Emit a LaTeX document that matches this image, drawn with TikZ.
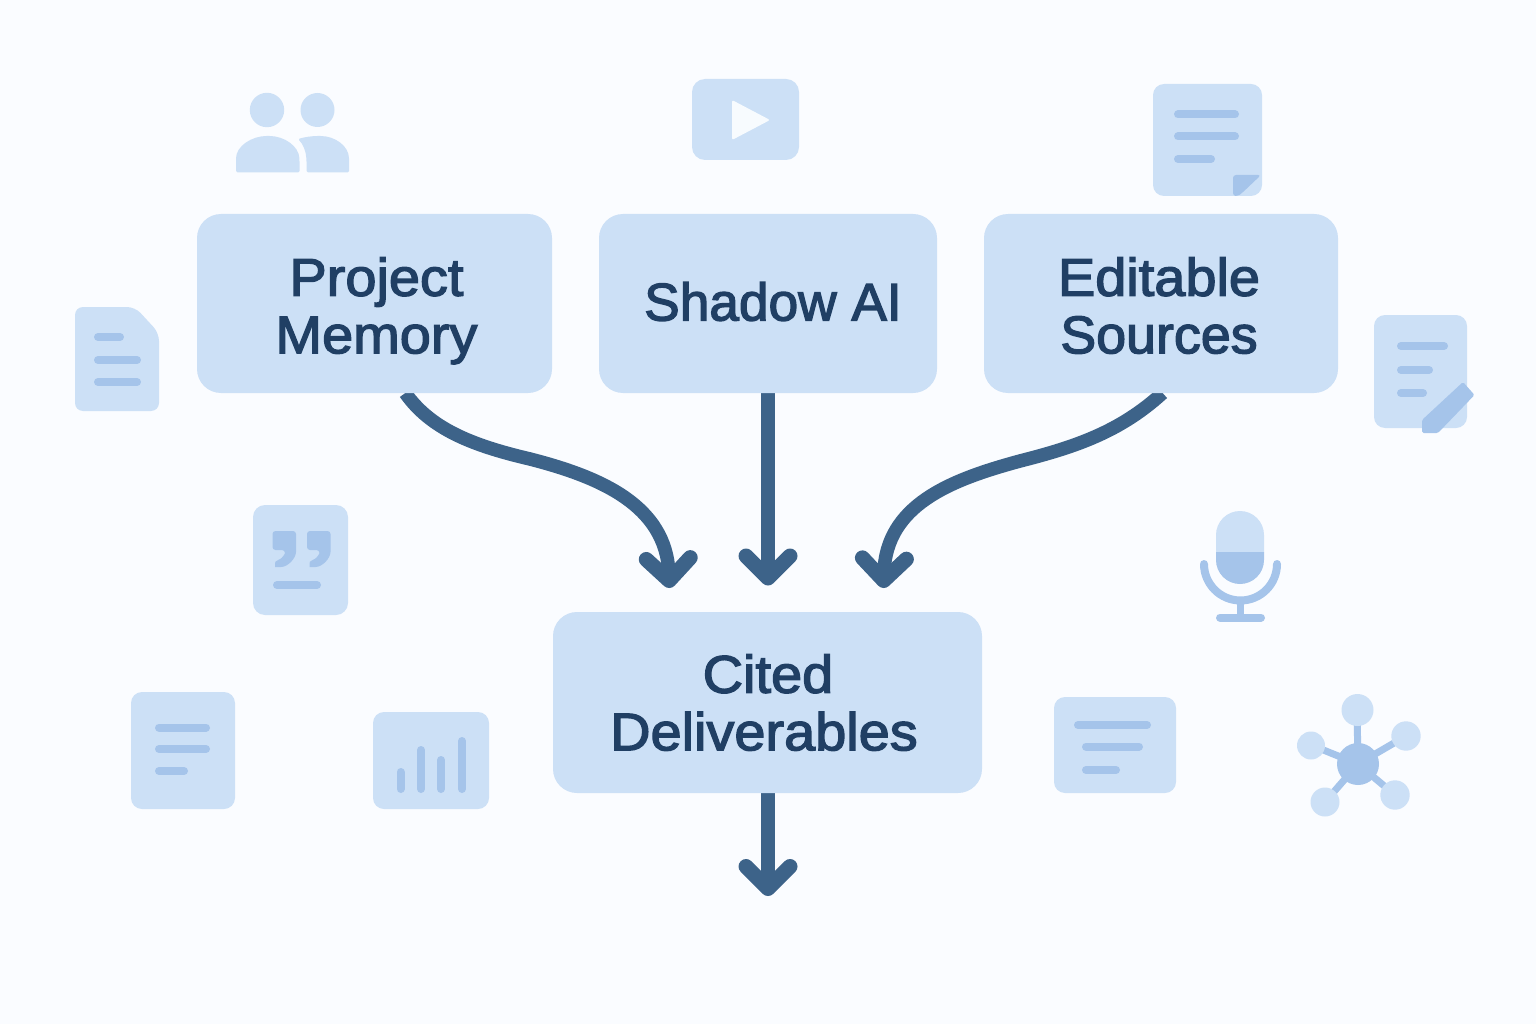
\documentclass[tikz,border=0pt]{standalone}
\usepackage{fontspec}
\setmainfont{Liberation Sans}[FakeBold=2.5,FakeStretch=1.055]
\usetikzlibrary{arrows.meta}
\pgfdeclarelayer{under}
\pgfsetlayers{under,main}
\definecolor{pagebg}{HTML}{FAFCFF}
\definecolor{boxfill}{HTML}{CCE0F6}
\definecolor{iconmid}{HTML}{A5C4EA}
\definecolor{flowcol}{HTML}{3D6389}
\definecolor{textcol}{HTML}{203F64}
\definecolor{playcol}{HTML}{F7FBFE}
\newcommand\lnstrut{\rule[-11pt]{0pt}{64pt}}
\newcommand\onestrut{\rule[-11pt]{0pt}{56pt}}
\newcommand\citedstrut{\rule[-11pt]{0pt}{60pt}}
\AtBeginDocument{\setlength{\lineskiplimit}{-100pt}}
\tikzset{
  mainbox/.style={fill=boxfill,rounded corners=24pt,inner sep=0pt,outer sep=0pt,text=textcol,
    align=center,font=\fontsize{53}{57.5}\selectfont},
  flow/.style={draw=flowcol,line width=13.5pt,line join=round,
    -{Straight Barb[length=22pt,width=44pt,line width=15pt,line cap=round,line join=round,round]}},
  card/.style={fill=boxfill,rounded corners=#1},
  card/.default=11pt,
  bar/.style={draw=iconmid,line width=8pt,line cap=round},
  mid/.style={fill=iconmid},
  light/.style={fill=boxfill},
  link/.style={draw=iconmid,line width=7pt},
}
\begin{document}
\begin{tikzpicture}[x=1pt,y=-1pt]
\useasboundingbox (0,0) rectangle (1536,1024);
% main boxes
\node[mainbox,minimum width=355pt,minimum height=179pt] (pm) at (374.5,303.5) {\lnstrut\kern4pt Project\\\lnstrut\kern4pt Memory};
\node[mainbox,minimum width=338pt,minimum height=179pt] (sa) at (768,303.5) {\onestrut\kern10pt{\addfontfeature{FakeStretch=1.005}Shadow AI}};
\node[mainbox,minimum width=354pt,minimum height=179pt] (es) at (1161,303.5) {Editable\kern4pt\lnstrut\\{\addfontfeature{FakeStretch=1.015}Sources}\kern4pt\lnstrut};
\node[mainbox,minimum width=429pt,minimum height=181pt] (cd) at (767.5,702.5) {\citedstrut\kern1pt Cited\\Deliverables\kern7pt\citedstrut};
% free ends
\coordinate (t1) at (669.5,588);
\coordinate (t2) at (768,585.5);
\coordinate (t3) at (883.5,588);
\coordinate (t4) at (768,896);
\coordinate (m1) at (530,459);
\coordinate (m3) at (1020,461);
\begin{pgfonlayer}{under}
\fill[pagebg] (0,0) rectangle (1536,1024);
% connectors
\draw[flow] (pm.-71) .. controls (430,428) and (470,445) .. (m1) .. controls (600,477) and (666,505) .. (t1);
\draw[flow] (sa.south) -- (t2);
\draw[flow] (es.-89) .. controls (1120,432) and (1075,447) .. (m3) .. controls (950,480) and (886,505) .. (t3);
\draw[flow] (t4 |- cd.south) -- (t4);
\end{pgfonlayer}
% people
\fill[light] (267,110) circle (17.2);
\fill[light] (317.5,110) circle (17);
\fill[light,rounded corners=1.5pt] (236,172.5) -- (236,160) .. controls (236,146) and (252,136) .. (268,136) .. controls (284,136) and (299,146) .. (299.5,160) -- (299.5,172.5) -- cycle;
\fill[light,rounded corners=1.5pt] (306.5,172.5) -- (306.5,160) .. controls (306,151) and (303,144) .. (298,139) .. controls (305,137) and (312,136) .. (319,136) .. controls (335,136) and (349,146) .. (349,160) -- (349,172.5) -- cycle;
% left document
\fill[light,rounded corners=8pt] (75,307) -- (135,307) -- (159,333) -- (159,411) -- (75,411) -- cycle;
\draw[bar] (98,337) -- (120,337);
\draw[bar] (98,360) -- (137,360);
\draw[bar] (98,382) -- (137,382);
% play
\fill[card=13pt] (692,79) rectangle (799,160);
\fill[playcol,rounded corners=2pt] (732,100) -- (770,120) -- (732,140) -- cycle;
% note
\fill[card] (1153,84) rectangle (1262,196);
\fill[mid,rounded corners=3pt] (1233,196) -- (1233,175) -- (1261,175) -- (1242,193) -- (1238,196) -- cycle;
\draw[bar] (1178,114.5) -- (1235,114.5);
\draw[bar] (1178,136.5) -- (1235,136.5);
\draw[bar] (1178,159) -- (1211,159);
% edit doc
\fill[card] (1374,315) rectangle (1467,428);
\draw[bar] (1401,346) -- (1444,346);
\draw[bar] (1401,370) -- (1429,370);
\draw[bar] (1401,393) -- (1423,393);
\fill[mid,rounded corners=1.5pt] (1422,433) -- (1422,420) -- (1463,382) -- (1474.5,395) -- (1438,433) -- cycle;
% quote
\fill[card=12pt] (253,505) rectangle (348,615);
\foreach \q in {0,34.5}{
  \fill[mid,rounded corners=3pt,xshift=\q pt] (272.5,531) -- (296,531) -- (296,549) .. controls (296,558) and (288,567) .. (278,567) .. controls (275,567) and (275,562) .. (278,560) .. controls (282,558) and (285,554) .. (285,550) -- (272.5,550) -- cycle;
}
\draw[bar] (277,585) -- (317,585);
% lower doc
\fill[card] (131,692) rectangle (235,809);
\draw[bar] (159,727.5) -- (206,727.5);
\draw[bar] (159,749) -- (206,749);
\draw[bar] (159,771) -- (184,771);
% chart
\fill[card] (373,712) rectangle (489,809);
\draw[bar] (400.5,772) -- (400.5,789);
\draw[bar] (421,750) -- (421,789);
\draw[bar] (441,760) -- (441,789);
\draw[bar] (462,741) -- (462,789);
% microphone (the y axis points down, so arcs run the other way round)
\fill[light] (1216,552) -- (1216,535) arc[start angle=180,end angle=360,radius=24] -- (1264,552) -- cycle;
\fill[mid] (1216,552) -- (1264,552) -- (1264,560) arc[start angle=0,end angle=180,radius=24] -- cycle;
\draw[draw=iconmid,line width=8pt,line cap=round] (1204,564) arc[start angle=180,end angle=0,radius=36.5];
\draw[draw=iconmid,line width=6.5pt] (1240.5,600) -- (1240.5,617);
\draw[bar] (1220,617.5) -- (1261,617.5);
% card
\fill[card] (1054,697) rectangle (1176,793);
\draw[bar] (1078,725) -- (1147,725);
\draw[bar] (1086,746.5) -- (1139,746.5);
\draw[bar] (1086,770) -- (1116,770);
% network
\draw[link] (1358,764) -- (1357,710);
\draw[link] (1358,764) -- (1406,736);
\draw[link] (1358,764) -- (1311,745);
\draw[link] (1358,764) -- (1325,802);
\draw[link] (1358,764) -- (1395,795);
\fill[mid] (1358,764) circle (21);
\fill[light] (1357.5,710) circle (16);
\fill[light] (1406,736) circle (14.7);
\fill[light] (1311,745.5) circle (14);
\fill[light] (1325,802) circle (14.5);
\fill[light] (1395,795) circle (14.7);
\end{tikzpicture}
\end{document}
